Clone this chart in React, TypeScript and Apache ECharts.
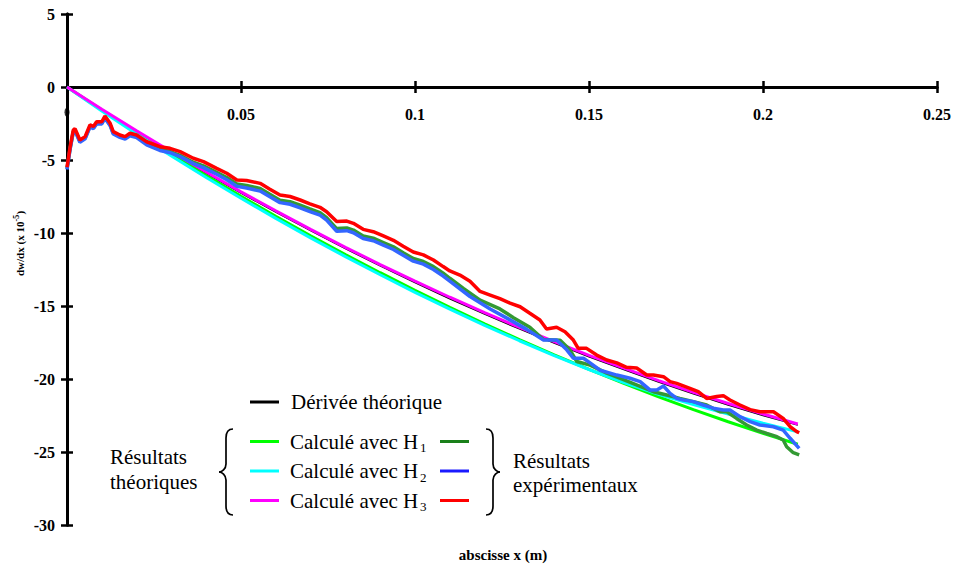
import React, { useEffect, useRef } from "react";
import * as echarts from "echarts";

const FONT = "Liberation Serif";

// Theoretical curves (x in m, dw/dx in 1e-5)
const thX = [0, 0.01, 0.02, 0.03, 0.04, 0.05, 0.06, 0.07, 0.08, 0.09, 0.1, 0.11, 0.12, 0.13, 0.14, 0.15, 0.16, 0.17, 0.18, 0.19, 0.2, 0.21];
const thDeriv = [0, -1.6, -3.08, -4.52, -5.91, -7.27, -8.57, -9.84, -11.07, -12.25, -13.4, -14.5, -15.56, -16.57, -17.54, -18.48, -19.36, -20.21, -21.02, -21.78, -22.5, -23.16];
const thH1 = [0, -1.58, -3.12, -4.61, -6.07, -7.48, -8.86, -10.19, -11.48, -12.72, -13.93, -15.1, -16.22, -17.3, -18.34, -19.34, -20.3, -21.22, -22.1, -22.93, -23.72, -24.47];
const thH2 = [0, -1.65, -3.22, -4.72, -6.2, -7.62, -9.0, -10.33, -11.62, -12.86, -14.07, -15.22, -16.33, -17.38, -18.4, -19.35, -20.25, -21.05, -21.75, -22.4, -23.02, -23.62];
const thH3 = [0, -1.52, -3.0, -4.43, -5.82, -7.18, -8.48, -9.75, -10.98, -12.16, -13.3, -14.4, -15.46, -16.47, -17.44, -18.38, -19.26, -20.11, -20.92, -21.68, -22.4, -23.08];

// Experimental curves [x, dw/dx]
const expH1 = [[0,-5.6],[0.0009,-4.2],[0.0018,-3.05],[0.0023,-2.95],[0.0037,-3.72],[0.0052,-3.5],[0.0066,-2.7],[0.0076,-2.8],[0.0085,-2.48],[0.01,-2.48],[0.0109,-2.08],[0.0124,-2.6],[0.0133,-3.16],[0.0152,-3.4],[0.0167,-3.5],[0.0181,-3.28],[0.02,-3.4],[0.0229,-3.9],[0.0267,-4.28],[0.0296,-4.42],[0.0325,-4.68],[0.0363,-5.15],[0.0392,-5.4],[0.043,-5.85],[0.0459,-6.2],[0.0488,-6.65],[0.0516,-6.75],[0.0555,-6.95],[0.0583,-7.35],[0.0612,-7.75],[0.0641,-7.85],[0.067,-8.1],[0.0698,-8.35],[0.0727,-8.6],[0.0746,-8.95],[0.0775,-9.7],[0.0804,-9.65],[0.0823,-9.8],[0.0851,-10.2],[0.088,-10.35],[0.0909,-10.65],[0.0938,-10.95],[0.0966,-11.35],[0.0995,-11.75],[0.1024,-11.95],[0.1053,-12.3],[0.1081,-12.75],[0.11,-13.1],[0.1139,-13.8],[0.1187,-14.6],[0.1244,-15.2],[0.1283,-15.8],[0.133,-16.45],[0.1369,-17.3],[0.1417,-17.35],[0.1445,-18.0],[0.1465,-18.8],[0.1503,-19.05],[0.1551,-19.6],[0.1599,-20.05],[0.1647,-20.5],[0.1685,-20.87],[0.1723,-21.1],[0.1761,-21.33],[0.18,-21.55],[0.1838,-21.78],[0.1876,-22.24],[0.1896,-22.24],[0.1924,-22.7],[0.1953,-23.15],[0.1982,-23.5],[0.2011,-23.73],[0.204,-23.95],[0.2058,-24.18],[0.2068,-24.64],[0.2087,-25.05],[0.2104,-25.2]];
const expH2 = [[0,-5.65],[0.0009,-4.25],[0.0018,-3.1],[0.0023,-3.0],[0.0037,-3.78],[0.0052,-3.55],[0.0066,-2.75],[0.0076,-2.85],[0.0085,-2.53],[0.01,-2.53],[0.0109,-2.14],[0.0124,-2.65],[0.0133,-3.22],[0.0152,-3.45],[0.0167,-3.56],[0.0181,-3.34],[0.02,-3.46],[0.0229,-3.96],[0.0267,-4.35],[0.0296,-4.5],[0.0325,-4.77],[0.0363,-5.25],[0.0392,-5.52],[0.043,-5.98],[0.0459,-6.35],[0.0488,-6.8],[0.0516,-6.92],[0.0555,-7.13],[0.0583,-7.52],[0.0612,-7.92],[0.0641,-8.03],[0.067,-8.28],[0.0698,-8.53],[0.0727,-8.78],[0.0746,-9.12],[0.0775,-9.88],[0.0804,-9.84],[0.0823,-9.98],[0.0851,-10.38],[0.088,-10.53],[0.0909,-10.83],[0.0938,-11.13],[0.0966,-11.53],[0.0995,-11.93],[0.1024,-12.13],[0.1053,-12.5],[0.1081,-12.95],[0.11,-13.3],[0.1158,-14.35],[0.1216,-15.2],[0.1273,-15.95],[0.1321,-16.6],[0.1369,-17.33],[0.1407,-17.33],[0.1436,-18.0],[0.1455,-18.58],[0.1484,-18.58],[0.1503,-18.9],[0.1532,-19.4],[0.158,-19.73],[0.1618,-19.95],[0.1647,-20.18],[0.1675,-20.75],[0.1695,-20.75],[0.1714,-20.48],[0.1733,-20.98],[0.1752,-21.33],[0.1771,-21.44],[0.18,-21.55],[0.1828,-21.78],[0.1857,-22.0],[0.1886,-22.12],[0.1905,-22.12],[0.1934,-22.58],[0.1963,-22.92],[0.1991,-23.15],[0.203,-23.27],[0.2058,-23.5],[0.2078,-24.06],[0.2104,-24.75]];
const expH3 = [[0,-5.5],[0.0009,-4.1],[0.0018,-2.95],[0.0023,-2.85],[0.0037,-3.63],[0.0052,-3.4],[0.0066,-2.6],[0.0076,-2.7],[0.0085,-2.38],[0.01,-2.38],[0.0109,-1.99],[0.0124,-2.49],[0.0133,-3.06],[0.0152,-3.29],[0.0167,-3.4],[0.0181,-3.17],[0.02,-3.29],[0.0229,-3.75],[0.0267,-4.09],[0.0296,-4.2],[0.0325,-4.43],[0.0363,-4.88],[0.0392,-5.11],[0.043,-5.57],[0.0459,-5.91],[0.0488,-6.37],[0.0516,-6.4],[0.0555,-6.6],[0.0583,-7.0],[0.0612,-7.4],[0.0641,-7.5],[0.067,-7.74],[0.0698,-8.0],[0.0727,-8.24],[0.0746,-8.54],[0.0775,-9.22],[0.0804,-9.18],[0.0823,-9.34],[0.0851,-9.75],[0.088,-9.91],[0.0909,-10.2],[0.0938,-10.5],[0.0966,-10.9],[0.0995,-11.3],[0.1024,-11.5],[0.1053,-11.85],[0.1081,-12.3],[0.11,-12.6],[0.1129,-12.88],[0.1158,-13.3],[0.1187,-14.0],[0.1216,-14.25],[0.1244,-14.5],[0.1273,-14.8],[0.1302,-15.05],[0.133,-15.5],[0.1359,-15.96],[0.1378,-16.58],[0.1407,-16.46],[0.1431,-16.76],[0.1455,-17.33],[0.1469,-17.9],[0.1493,-17.9],[0.1522,-18.36],[0.1551,-18.7],[0.158,-18.9],[0.1608,-19.2],[0.1637,-19.25],[0.1666,-19.73],[0.1685,-19.73],[0.1714,-19.84],[0.1733,-20.18],[0.1752,-20.3],[0.179,-20.64],[0.1814,-20.87],[0.1838,-21.33],[0.1867,-21.2],[0.1886,-21.14],[0.1905,-21.44],[0.1934,-21.78],[0.1963,-22.1],[0.1991,-22.24],[0.203,-22.24],[0.2058,-22.7],[0.2078,-23.27],[0.2097,-23.6],[0.2104,-23.68]];

const markerPoint = [[0, -1.73]];

const legendRows = [
  { label: "Calculé avec H", sub: "1", theo: "#00ff00", exp: "#1a801a" },
  { label: "Calculé avec H", sub: "2", theo: "#00ffff", exp: "#1a1aff" },
  { label: "Calculé avec H", sub: "3", theo: "#ff00ff", exp: "#ff0000" },
];

function brace(xEnd: number, xStem: number, xTip: number, yTop: number, yMid: number, yBot: number) {
  const st = { stroke: "#000", lineWidth: 1.7, fill: "none" };
  const dE = xEnd - xStem;
  const dT = xStem - xTip;
  return [
    { type: "bezierCurve", shape: { x1: xEnd, y1: yTop, cpx1: xStem + dE * 0.3, cpy1: yTop, cpx2: xStem, cpy2: yTop + 3, x2: xStem, y2: yTop + 9 }, style: st },
    { type: "line", shape: { x1: xStem, y1: yTop + 9, x2: xStem, y2: yMid - 8 }, style: st },
    { type: "bezierCurve", shape: { x1: xStem, y1: yMid - 8, cpx1: xStem, cpy1: yMid - 3, cpx2: xTip + dT * 0.4, cpy2: yMid, x2: xTip, y2: yMid }, style: st },
    { type: "bezierCurve", shape: { x1: xTip, y1: yMid, cpx1: xTip + dT * 0.4, cpy1: yMid, cpx2: xStem, cpy2: yMid + 3, x2: xStem, y2: yMid + 8 }, style: st },
    { type: "line", shape: { x1: xStem, y1: yMid + 8, x2: xStem, y2: yBot - 9 }, style: st },
    { type: "bezierCurve", shape: { x1: xStem, y1: yBot - 9, cpx1: xStem, cpy1: yBot - 3, cpx2: xStem + dE * 0.3, cpy2: yBot, x2: xEnd, y2: yBot }, style: st },
  ];
}

export default function App() {
  const ref = useRef<HTMLDivElement>(null);
  useEffect(() => {
    if (!ref.current) return;
    const chart = echarts.init(ref.current, null, { renderer: "svg" });
    const tickLabel = { fontSize: 16, fontWeight: "bold", fontFamily: FONT, color: "#000" };
    const txt = (text: string, x: number, y: number, size = 21, extra: any = {}) => ({
      type: "text",
      x, y,
      style: { text, fontSize: size, fontFamily: FONT, fill: "#000", textVerticalAlign: "middle", textAlign: "left", ...extra },
    });
    const rowsY = [441.5, 471, 500.5];
    const graphic: any[] = [];
    graphic.push({ type: "line", shape: { x1: 250, y1: 402, x2: 279, y2: 402 }, style: { stroke: "#000", lineWidth: 3 } });
    graphic.push(txt("Dérivée théorique", 291, 402));
    legendRows.forEach((r, i) => {
      const y = rowsY[i];
      graphic.push({ type: "line", shape: { x1: 250, y1: y, x2: 279, y2: y }, style: { stroke: r.theo, lineWidth: 3 } });
      graphic.push(txt(r.label, 290, y));
      graphic.push(txt(r.sub, 420, y + 6, 13));
      graphic.push({ type: "line", shape: { x1: 440, y1: y, x2: 469, y2: y }, style: { stroke: r.exp, lineWidth: 3 } });
    });
    graphic.push(txt("Résultats", 110, 457));
    graphic.push(txt("théoriques", 110, 482));
    graphic.push(txt("Résultats", 513, 461));
    graphic.push(txt("expérimentaux", 513, 485));
    graphic.push(...brace(233, 226, 219, 429, 472, 515));
    graphic.push(...brace(486, 493, 500, 429, 472, 515));
    graphic.push(txt("abscisse x (m)", 503, 555, 15, { fontWeight: "bold", textAlign: "center" }));
    graphic.push({
      type: "group",
      x: 20,
      y: 244,
      rotation: Math.PI / 2,
      children: [
        txt("dw/dx (x 10", -32, 0, 11, { fontWeight: "bold" }),
        txt("-5", 22.5, -4, 8, { fontWeight: "bold" }),
        txt(")", 29.5, 0, 11, { fontWeight: "bold" }),
      ],
    });

    const xBase = {
      type: "value", min: 0, max: 0.25, interval: 0.05,
      splitLine: { show: false },
    };
    const yBase = {
      type: "value", min: -30, max: 5, interval: 5,
      splitLine: { show: false },
    };
    const lineS = (name: string, data: any[], color: string, width: number) => ({
      name, type: "line", data, showSymbol: false, symbol: "none", clip: false,
      lineStyle: { color, width }, itemStyle: { color },
    });
    const th = (arr: number[]) => thX.map((x, i) => [x, arr[i]]);

    chart.setOption({
      animation: false,
      backgroundColor: "#fff",
      grid: { left: 67, right: 19, top: 14, bottom: 41, containLabel: false },
      xAxis: [
        {
          ...xBase,
          position: "bottom",
          axisLine: { show: true, onZero: true, onZeroAxisIndex: 0, lineStyle: { color: "#000", width: 3 } },
          axisTick: { show: true, inside: false, length: 6, lineStyle: { color: "#000", width: 2.5 } },
          axisLabel: { ...tickLabel, margin: -419, formatter: (v: number) => (v === 0 ? "" : String(v)) },
        },
        {
          ...xBase,
          position: "top",
          axisLine: { show: true, onZero: true, onZeroAxisIndex: 1, lineStyle: { color: "#000", width: 3 } },
          axisTick: { show: true, inside: false, length: 6, lineStyle: { color: "#000", width: 2.5 } },
          axisLabel: { show: false },
        },
      ],
      yAxis: [
        {
          ...yBase,
          position: "left",
          axisLine: { show: true, onZero: true, lineStyle: { color: "#000", width: 3 } },
          axisTick: { show: true, inside: false, length: 6, lineStyle: { color: "#000", width: 2.5 } },
          axisLabel: { ...tickLabel, margin: 12 },
        },
        {
          ...yBase,
          position: "left",
          axisLine: { show: true, onZero: true, lineStyle: { color: "#000", width: 3 } },
          axisTick: { show: true, inside: true, length: 6, lineStyle: { color: "#000", width: 2.5 } },
          axisLabel: { show: false },
        },
      ],
      series: [
        lineS("Dérivée théorique", th(thDeriv), "#000000", 1.5),
        lineS("Calculé avec H1", th(thH1), "#00ff00", 3),
        lineS("Calculé avec H2", th(thH2), "#00ffff", 3),
        lineS("Calculé avec H3", th(thH3), "#ff00ff", 3),
        lineS("Expérimental H1", expH1, "#339933", 3.5),
        lineS("Expérimental H2", expH2, "#3366ff", 3.5),
        lineS("Expérimental H3", expH3, "#ff0000", 3.5),
        {
          type: "scatter", data: markerPoint, symbol: "circle", symbolSize: [5, 9],
          itemStyle: { color: "#000" }, clip: false, z: 5,
        },
      ],
      graphic,
    });
    return () => chart.dispose();
  }, []);
  return <div ref={ref} style={{ position: "fixed", left: 0, top: 0, width: 956, height: 566, background: "#fff" }} />;
}
